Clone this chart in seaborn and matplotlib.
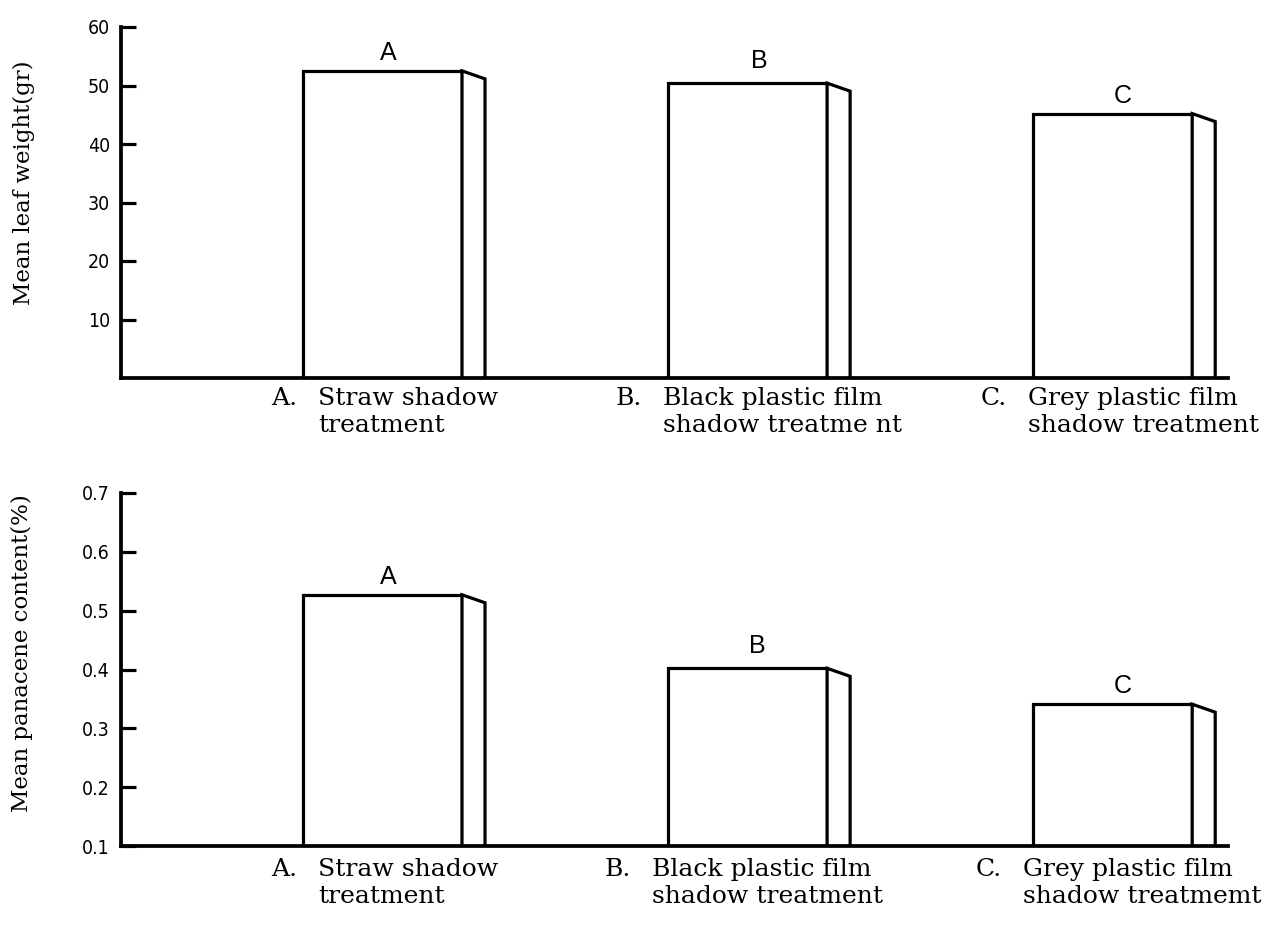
import matplotlib
matplotlib.use("Agg")
import matplotlib.pyplot as plt
import seaborn as sns
import pandas as pd

# ---------------- data ----------------
treatments = ["A", "B", "C"]
prefixes = ["A.", "B.", "C."]
labels_top = ["Straw shadow\ntreatment",
              "Black plastic film\nshadow treatme nt",
              "Grey plastic film\nshadow treatment"]
labels_bottom = ["Straw shadow\ntreatment",
                 "Black plastic film\nshadow treatment",
                 "Grey plastic film\nshadow treatmemt"]
leaf_weight = [52.5, 50.4, 45.2]          # Mean leaf weight (gr)
panacene = [0.527, 0.402, 0.341]          # Mean panacene content (%)
weight_ticks = [10, 20, 30, 40, 50, 60]
weight_ticklabels = ["10", "20", "30", "40", "50", "60"]
panacene_ticks = [0.1, 0.2, 0.3, 0.4, 0.5, 0.6, 0.7]
panacene_ticklabels = ["0.1", "0.2", "0.3", "0.4", "0.5", "0.6", "0.7"]
ylabel_top = "Mean leaf weight(gr)"
ylabel_bottom = "Mean panacene content(%)"

# ---------------- style ----------------
sns.set_theme(style="white")
plt.rcParams["font.family"] = ["DejaVu Serif"]
plt.rcParams["text.color"] = "black"
LW = 2.3
BAR_W = 0.436
DEPTH = 0.063      # side-face depth (x units)
DROP_PX = 8        # side-face slant in pixels
TICK_FONT = ["DejaVu Sans"]
LETTER_FONT = ["Liberation Sans", "DejaVu Sans"]

W, H = 1274, 925
fig = plt.figure(figsize=(W / 100, H / 100), dpi=100)

def px_ax(x0, x1, ytop, ybot):
    return fig.add_axes([x0 / W, 1 - ybot / H, (x1 - x0) / W, (ybot - ytop) / H])

ax1 = px_ax(121, 1228, 27, 378)
ax2 = px_ax(121, 1228, 493, 846)

def draw_panel(ax, values, ymin, ymax, ticks, ticklabels, labels, ylab, ylab_xy,
               label_pad, letter_off, label_shift):
    df = pd.DataFrame({"treatment": treatments, "value": values})
    sns.barplot(data=df, x="treatment", y="value", order=treatments,
                color="white", saturation=1, width=BAR_W,
                edgecolor="black", linewidth=LW, ax=ax, zorder=3)
    ax.set_xlim(-0.716, 2.316)
    ax.set_ylim(ymin, ymax)
    yr = ymax - ymin
    ax_h_px = ax.get_position().height * H
    drop = DROP_PX / ax_h_px * yr
    for i, v in enumerate(values):
        xr = i + BAR_W / 2
        ax.fill([xr, xr, xr + DEPTH, xr + DEPTH],
                [ymin - yr, v, v - drop, ymin - yr],
                facecolor="white", edgecolor="black", linewidth=LW,
                joinstyle="miter", zorder=3)
        ax.annotate(treatments[i], xy=(i, v), xytext=letter_off[i],
                    textcoords="offset pixels", ha="center", va="center",
                    fontsize=18, family=LETTER_FONT,
                    color="black", zorder=5, annotation_clip=False)
    ax.set_xticks([])
    ax.set_yticks(ticks)
    ax.set_yticklabels(ticklabels, family=TICK_FONT, fontstretch="condensed",
                       fontsize=14)
    ax.set_xlabel("")
    ax.set_ylabel("")
    ax.tick_params(axis="y", direction="in", length=11, width=LW, pad=8,
                   left=True, colors="black")
    for s in ["top", "right"]:
        ax.spines[s].set_visible(False)
    for s in ["left", "bottom"]:
        ax.spines[s].set_linewidth(LW + 0.4)
        ax.spines[s].set_color("black")
        ax.spines[s].set_zorder(4)
    ax.patch.set_alpha(0)
    # category labels with hanging prefix
    for i, lab in enumerate(labels):
        block = ax.annotate(lab, xy=(i + label_shift[i], 0),
                            xycoords=("data", "axes fraction"),
                            xytext=(0, -label_pad), textcoords="offset pixels",
                            ha="center", va="top", multialignment="left",
                            fontsize=18, linespacing=1.2, color="black")
        ax.annotate(prefixes[i], xy=(0, 1), xycoords=block,
                    xytext=(-21, 0), textcoords="offset pixels",
                    ha="right", va="top", fontsize=18, color="black")
    fig.text(ylab_xy[0] / W, 1 - ylab_xy[1] / H, ylab, rotation=90,
             ha="center", va="center", fontsize=16.5, color="black")

draw_panel(ax1, leaf_weight, 0, 60, weight_ticks, weight_ticklabels, labels_top,
           ylabel_top, (24, 183), 9, [(6, 18), (12, 22), (10, 18)],
           [0.07, 0.096, 0.085])
draw_panel(ax2, panacene, 0.1, 0.7, panacene_ticks, panacene_ticklabels, labels_bottom,
           ylabel_bottom, (22, 653), 12, [(6, 18), (10, 22), (10, 18)],
           [0.07, 0.055, 0.08])

fig.savefig("out.png", dpi=100, facecolor="white")
